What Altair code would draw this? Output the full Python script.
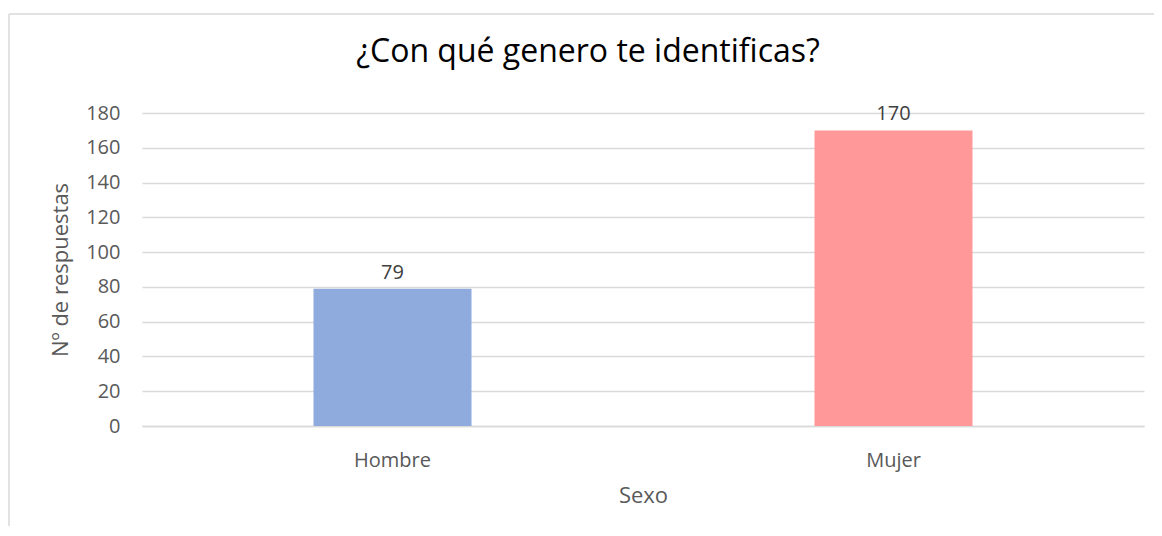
import altair as alt
import pandas as pd

categories = ["Hombre", "Mujer"]
values = [79, 170]
colors = ["#8FAADC", "#FF9999"]
y_ticks = [0, 20, 40, 60, 80, 100, 120, 140, 160, 180]
title_text = ["¿Con qué genero te identificas?"]

df = pd.DataFrame({"Sexo": categories, "n": values})
tdf = pd.DataFrame({"t": title_text})

FONT = "Open Sans"
GRAY = "#595959"

X = alt.X("Sexo:N", sort=categories,
          scale=alt.Scale(domain=categories, paddingInner=0, paddingOuter=0),
          axis=alt.Axis(title="Sexo", labelAngle=0, ticks=False, domain=True,
                        domainColor="#D9D9D9", domainWidth=1.5, grid=False,
                        labelPadding=24, titlePadding=15,
                        labelFontSize=20, titleFontSize=22,
                        labelColor=GRAY, titleColor=GRAY,
                        labelFont=FONT, titleFont=FONT, titleFontWeight="normal"))
Y = alt.Y("n:Q", scale=alt.Scale(domain=[0, 180], nice=False),
          axis=alt.Axis(title="Nº de respuestas", values=y_ticks, ticks=False, domain=False,
                        grid=True, gridColor="#D9D9D9", gridWidth=1.5,
                        labelOverlap=False, labelFlush=False,
                        labelPadding=22, titlePadding=13,
                        labelFontSize=20, titleFontSize=22,
                        labelColor=GRAY, titleColor=GRAY,
                        labelFont=FONT, titleFont=FONT, titleFontWeight="normal"))

base = alt.Chart(df)

frame_top = alt.Chart(tdf).mark_rule(color="#D9D9D9", strokeWidth=1.5, clip=False).encode(
    x=alt.value(-133), x2=alt.value(1100), y=alt.value(-99)
)
frame_left = alt.Chart(tdf).mark_rule(color="#D9D9D9", strokeWidth=1.5, clip=False).encode(
    x=alt.value(-133), y=alt.value(-99), y2=alt.value(500)
)

title = alt.Chart(tdf).mark_text(fontSize=32, font=FONT, color="#000000",
                                 baseline="alphabetic", align="center").encode(
    x=alt.value(446), y=alt.value(-51), text="t:N"
)

bars = base.mark_bar(size=158).encode(
    x=X, y=Y,
    color=alt.Color("Sexo:N", scale=alt.Scale(domain=categories, range=colors), legend=None),
)

labels = base.mark_text(dy=-16, fontSize=20, font=FONT, color="#404040").encode(
    x=X, y=Y, text="n:Q",
)

chart = alt.layer(frame_top, frame_left, bars, labels, title).properties(
    width=1002,
    height=313,
    background="white",
    padding={"left": 134, "top": 105, "right": 10, "bottom": 100},
    autosize=alt.AutoSizeParams(type="none"),
).configure_view(strokeWidth=0, stroke="transparent")

chart.save("out.html", embed_options={"renderer": "svg", "actions": False})
